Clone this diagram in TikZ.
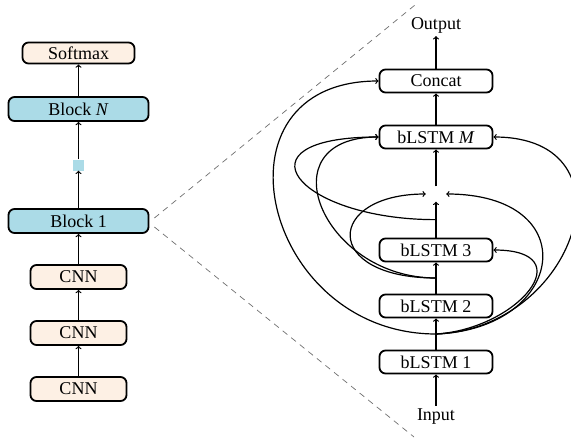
\documentclass[tikz,border=0pt]{standalone}
\usepackage{fontspec}
\setmainfont{Liberation Serif}
\usetikzlibrary{calc}
\definecolor{peach}{RGB}{253,240,228}
\definecolor{blk}{RGB}{171,219,231}
\definecolor{dashgray}{RGB}{110,110,110}
\begin{document}
\begin{tikzpicture}[x=1pt,y=-1pt,
  font=\fontsize{18}{21}\selectfont,
  basebox/.style={draw, line width=1.8pt, rounded corners=6pt, inner sep=0pt, minimum height=23pt},
  pbox/.style={basebox, fill=peach},
  bbox/.style={basebox, fill=blk, minimum width=140pt, minimum height=24pt},
  cbox/.style={pbox, minimum width=96pt, minimum height=24pt},
  rbox/.style={basebox, fill=white, minimum width=113pt},
  arr/.style={->, line width=1.2pt},
  guide/.style={dashgray, line width=0.7pt, dash pattern=on 6pt off 5pt}]
\useasboundingbox (0,0) rectangle (571,439);
% left column
\node[pbox, minimum width=112pt, minimum height=21pt] (soft) at (78.5,53) {Softmax};
\node[bbox] (bN) at (78.5,109) {Block \textit{N}};
\node[fill=blk, minimum size=11pt, inner sep=0pt] (sq) at (78.5,165) {};
\node[bbox] (b1l) at (78.5,221) {Block 1};
\node[cbox] (c1) at (78.5,277) {CNN};
\node[cbox] (c2) at (78.5,333) {CNN};
\node[cbox] (c3) at (78.5,389) {CNN};
\draw[arr] (c3) -- (c2);
\draw[arr] (c2) -- (c1);
\draw[arr] (c1) -- (b1l);
\draw[arr] (b1l) -- (sq);
\draw[arr] (sq) -- (bN);
\draw[arr] (bN) -- (soft);
% right column
\node[inner sep=3pt] (out) at (436,25) {Output};
\node[rbox] (cat) at (436,81) {Concat};
\node[rbox] (lm) at (436,137) {bLSTM \textit{M}};
\node[minimum width=20pt, minimum height=15pt, inner sep=0pt] (J) at (436,194) {};
\node[rbox] (l3) at (436,250) {bLSTM 3};
\node[rbox] (l2) at (436,306) {bLSTM 2};
\node[rbox] (l1) at (436,362) {bLSTM 1};
\node[inner sep=3pt] (in) at (436,417) {Input};
\coordinate (p1) at ($(l1.north)!.5!(l2.south)$);
\coordinate (p2) at ($(l2.north)!.5!(l3.south)$);
\coordinate (p3) at ($(l3.north)!.5!(J.south)$);
\draw[arr] (in) -- (l1);
\draw[arr] (l1) -- (l2);
\draw[arr] (l2) -- (l3);
\draw[arr] (l3) -- (J);
\draw[arr] (J) -- (lm);
\draw[arr] (lm) -- (cat);
\draw[arr] (cat) -- (out);
% skip connections
\draw[arr] (p1) .. controls +(-174,0) and +(-174,0) .. (cat.west);
\draw[arr] (p1) .. controls +(82,-5) and +(90,0) .. (l3.east);
\draw[arr] (p1) .. controls +(130,-5) and +(140,0) .. (J.east);
\draw[arr] (p1) .. controls +(140,-5) and +(145,0) .. (lm.east);
\draw[arr] (p2) .. controls +(-114,0) and +(-114,0) .. (lm.west);
\draw[arr] (p2) .. controls +(-115,0) and +(-100,0) .. (J.west);
\draw[arr] (p3) .. controls +(-140,0) and +(-147,0) .. (lm.west);
% zoom guides
\coordinate (g1) at ($(b1l.east)+(5,-3)$);
\coordinate (g2) at (415,5);
\coordinate (g3) at ($(b1l.east)+(5,6)$);
\coordinate (g4) at (414,437);
\draw[guide] (g1) -- (g2);
\draw[guide] (g3) -- (g4);
\end{tikzpicture}
\end{document}
